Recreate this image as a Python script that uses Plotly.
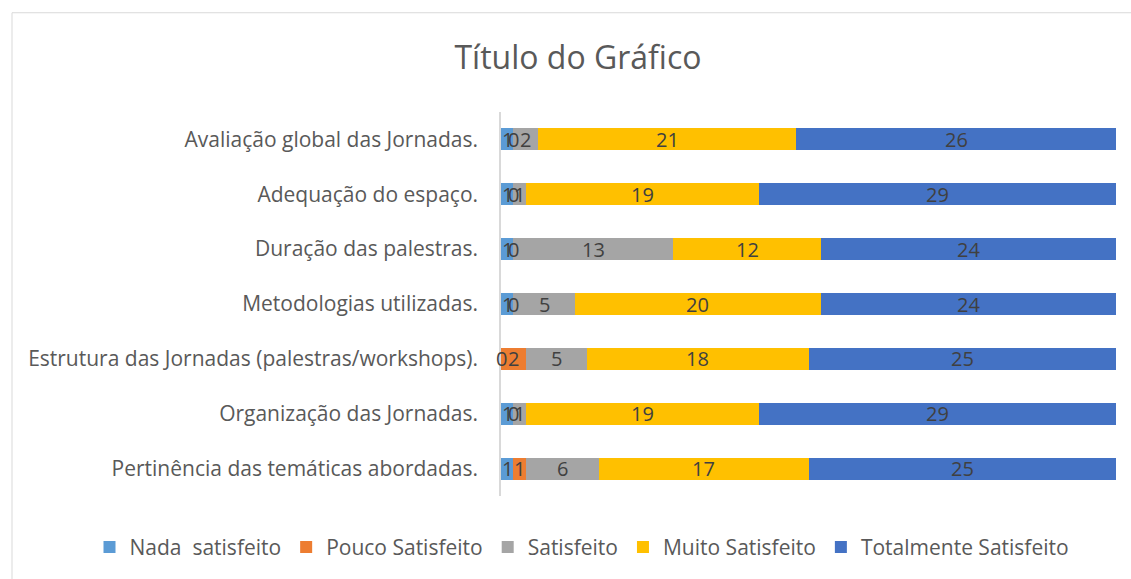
import plotly.graph_objects as go

categories = [
    "Avaliação global das Jornadas.",
    "Adequação do espaço.",
    "Duração das palestras.",
    "Metodologias utilizadas.",
    "Estrutura das Jornadas (palestras/workshops).",
    "Organização das Jornadas.",
    "Pertinência das temáticas abordadas.",
]
series_names = ["Nada  satisfeito", "Pouco Satisfeito", "Satisfeito", "Muito Satisfeito", "Totalmente Satisfeito"]
nada = [1, 1, 1, 1, 0, 1, 1]
pouco = [0, 0, 0, 0, 2, 0, 1]
satisfeito = [2, 1, 13, 5, 5, 1, 6]
muito = [21, 19, 12, 20, 18, 19, 17]
totalmente = [26, 29, 24, 24, 25, 29, 25]
colors = ["#5B9BD5", "#ED7D31", "#A5A5A5", "#FFC000", "#4472C4"]

series_values = [nada, pouco, satisfeito, muito, totalmente]

FONT = "Open Sans"

fig = go.Figure()
annotations = []
base = [0] * len(categories)
for name, vals, col in zip(series_names, series_values, colors):
    fig.add_trace(go.Bar(
        y=categories, x=vals, name=name, orientation="h",
        marker=dict(color=col, line=dict(width=0)),
    ))
    for i, (c, v) in enumerate(zip(categories, vals)):
        annotations.append(dict(
            x=base[i] + v / 2, y=c, xref="x", yref="y", text=str(v),
            showarrow=False, xanchor="center", yanchor="middle",
            font=dict(family=FONT, size=20, color="#404040"),
        ))
        base[i] += v

W, H = 1131, 579
L, R, T, B = 12, 15, 111.5, 82.5
pw, ph = W - L - R, H - T - B
axis_x = 501

shapes = [
    dict(type="line", xref="paper", yref="paper",
         x0=0, x1=(W + 10 - L) / pw, y0=1 + (T - 12) / ph, y1=1 + (T - 12) / ph,
         line=dict(color="#D9D9D9", width=1)),
    dict(type="line", xref="paper", yref="paper",
         x0=0, x1=0, y0=1 + (T - 12) / ph, y1=-(B + 10) / ph,
         line=dict(color="#D9D9D9", width=1)),
]

fig.update_layout(
    barmode="stack",
    bargap=0.6,
    width=W, height=H,
    margin=dict(l=L, r=R, t=T, b=B, autoexpand=False),
    paper_bgcolor="white", plot_bgcolor="white",
    title=dict(text="Título do Gráfico", x=578 / W, y=1 - 58 / H, xanchor="center", yanchor="middle",
               font=dict(family=FONT, size=32, color="#595959")),
    font=dict(family=FONT, color="#595959"),
    xaxis=dict(visible=False, range=[0, 50], fixedrange=True, domain=[(axis_x - L) / pw, 1]),
    yaxis=dict(autorange="reversed", showline=True, linecolor="#D9D9D9", linewidth=1.5,
               showgrid=False, ticks="", ticklabelstandoff=17, fixedrange=True,
               tickfont=dict(family=FONT, size=21, color="#595959")),
    legend=dict(orientation="h", x=(582 - L) / pw, xanchor="center", y=-(548 - (H - B)) / ph,
                yanchor="middle", font=dict(family=FONT, size=21, color="#595959"),
                traceorder="normal", itemwidth=30),
    annotations=annotations,
    shapes=shapes,
    showlegend=True,
)

fig.write_html("out.html", config={"displayModeBar": False},
               post_script="document.body.style.margin='0';document.body.style.padding='0';")
